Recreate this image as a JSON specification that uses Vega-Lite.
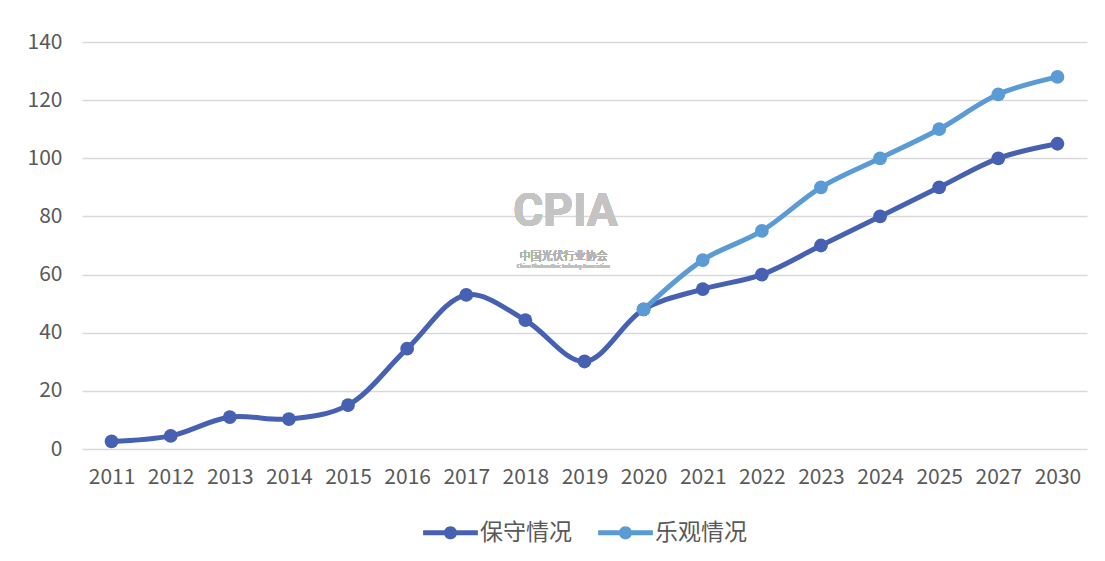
{
  "$schema": "https://vega.github.io/schema/vega-lite/v6.json",
  "width": 1005,
  "height": 407,
  "padding": {"left": 27, "top": 31, "right": 10, "bottom": 5},
  "background": "white",
  "config": {
    "font": "Noto Sans CJK SC",
    "view": {"stroke": null},
    "axis": {"labelFont": "Noto Sans CJK SC", "labelColor": "#595959"},
    "legend": {"layout": {"bottom": {"anchor": "middle"}}}
  },
  "data": {
    "values": [
      {"year": "2011", "value": 2.6, "series": "保守情况"},
      {"year": "2012", "value": 4.5, "series": "保守情况"},
      {"year": "2013", "value": 11, "series": "保守情况"},
      {"year": "2014", "value": 10.3, "series": "保守情况"},
      {"year": "2015", "value": 15.1, "series": "保守情况"},
      {"year": "2016", "value": 34.5, "series": "保守情况"},
      {"year": "2017", "value": 53, "series": "保守情况"},
      {"year": "2018", "value": 44.3, "series": "保守情况"},
      {"year": "2019", "value": 30.1, "series": "保守情况"},
      {"year": "2020", "value": 48, "series": "保守情况"},
      {"year": "2021", "value": 55, "series": "保守情况"},
      {"year": "2022", "value": 60, "series": "保守情况"},
      {"year": "2023", "value": 70, "series": "保守情况"},
      {"year": "2024", "value": 80, "series": "保守情况"},
      {"year": "2025", "value": 90, "series": "保守情况"},
      {"year": "2027", "value": 100, "series": "保守情况"},
      {"year": "2030", "value": 105, "series": "保守情况"},
      {"year": "2020", "value": 48, "series": "乐观情况"},
      {"year": "2021", "value": 65, "series": "乐观情况"},
      {"year": "2022", "value": 75, "series": "乐观情况"},
      {"year": "2023", "value": 90, "series": "乐观情况"},
      {"year": "2024", "value": 100, "series": "乐观情况"},
      {"year": "2025", "value": 110, "series": "乐观情况"},
      {"year": "2027", "value": 122, "series": "乐观情况"},
      {"year": "2030", "value": 128, "series": "乐观情况"}
    ]
  },
  "layer": [
    {
      "mark": {"type": "line", "interpolate": "catmull-rom", "strokeWidth": 5},
      "encoding": {
        "x": {
          "field": "year", "type": "ordinal", "title": null,
          "scale": {"type": "point", "padding": 0.5},
          "axis": {"labelAngle": 0, "labelFontSize": 21, "labelPadding": 17, "ticks": false, "domain": false, "grid": false}
        },
        "y": {
          "field": "value", "type": "quantitative", "title": null,
          "scale": {"domain": [0, 140]},
          "axis": {"values": [0, 20, 40, 60, 80, 100, 120, 140], "labelFontSize": 21, "labelPadding": 20, "ticks": false, "domain": false, "gridColor": "#d9d9d9", "gridWidth": 1.5}
        },
        "color": {
          "field": "series", "type": "nominal",
          "scale": {"domain": ["保守情况", "乐观情况"], "range": ["#4761B2", "#5B9BD5"]},
          "legend": {
            "title": null, "orient": "bottom", "direction": "horizontal",
            "symbolType": "M-1,-0.09L-0.2,-0.09L-0.2,0.09L-1,0.09Z M0.2,-0.09L1,-0.09L1,0.09L0.2,0.09Z M0.24,0A0.24,0.24 0 1,1 -0.24,0A0.24,0.24 0 1,1 0.24,0Z",
            "symbolSize": 3000, "symbolStrokeWidth": 0, "symbolOpacity": 1,
            "labelFontSize": 23, "labelColor": "#595959", "labelOffset": 2,
            "columnPadding": 26, "offset": 18,
            "encode": {"symbols": {"update": {"fill": {"scale": "color", "field": "value"}}}}
          }
        },
        "order": {"field": "year"}
      }
    },
    {
      "mark": {"type": "point", "filled": true, "opacity": 1, "size": 190},
      "encoding": {
        "x": {"field": "year", "type": "ordinal", "scale": {"type": "point", "padding": 0.5}},
        "y": {"field": "value", "type": "quantitative"},
        "color": {"field": "series", "type": "nominal"}
      }
    },
    {
      "mark": {"type": "text", "text": "CPIA", "font": "Roboto", "fontWeight": "bold", "fontSize": 46, "color": "#c4c4c4", "dx": 40},
      "encoding": {"x": {"datum": "2018", "scale": {"type": "point", "padding": 0.5}}, "y": {"datum": 81.5}}
    },
    {
      "mark": {"type": "text", "text": "中国光伏行业协会", "fontSize": 11, "color": "#b4b4b4", "dx": 38},
      "encoding": {"x": {"datum": "2018", "scale": {"type": "point", "padding": 0.5}}, "y": {"datum": 66}}
    },
    {
      "mark": {"type": "text", "text": "China Photovoltaic Industry Association", "fontSize": 5, "color": "#c0c0c0", "dx": 38},
      "encoding": {"x": {"datum": "2018", "scale": {"type": "point", "padding": 0.5}}, "y": {"datum": 62.8}}
    }
  ]
}
